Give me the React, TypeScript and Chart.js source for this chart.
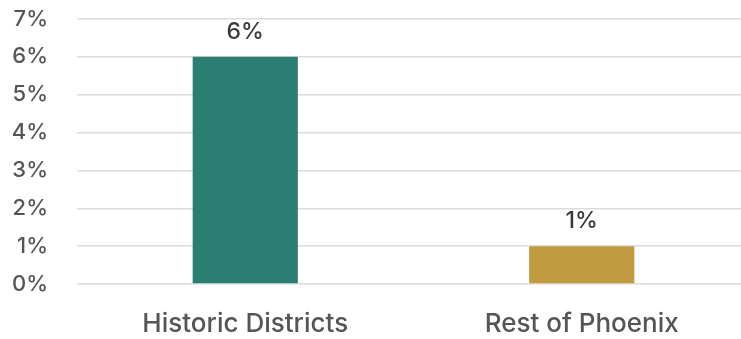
import React, { useEffect, useRef } from "react";
import { Chart, registerables } from "chart.js";

Chart.register(...registerables);

const categories = ["Historic Districts", "Rest of Phoenix"];
const values = [6, 1];
const barColors = ["#2b7f72", "#c29b40"];
const yTickValues = [0, 1, 2, 3, 4, 5, 6, 7];

const FONT = "Inter, 'Open Sans', sans-serif";

const valueLabelPlugin = {
  id: "valueLabels",
  afterDatasetsDraw(chart: any) {
    const ctx = chart.ctx;
    const meta = chart.getDatasetMeta(0);
    ctx.save();
    ctx.fillStyle = "#3a3a3a";
    ctx.font = `500 23px ${FONT}`;
    ctx.textAlign = "center";
    ctx.textBaseline = "middle";
    meta.data.forEach((bar: any, i: number) => {
      ctx.fillText(`${values[i]}%`, bar.x, bar.y - 25);
    });
    ctx.restore();
  },
};

export default function App() {
  const ref = useRef<HTMLCanvasElement | null>(null);
  useEffect(() => {
    if (!ref.current) return;
    const chart = new Chart(ref.current, {
      type: "bar",
      data: {
        labels: categories,
        datasets: [
          {
            data: values,
            backgroundColor: barColors,
            barPercentage: 1,
            categoryPercentage: 0.3125,
          },
        ],
      },
      options: {
        animation: false,
        responsive: false,
        maintainAspectRatio: false,
        layout: { padding: { top: 19, left: 0, right: 0, bottom: 0 } },
        plugins: { legend: { display: false }, tooltip: { enabled: false } },
        scales: {
          x: {
            grid: { display: false, drawTicks: false },
            border: { display: false },
            ticks: {
              color: "#555555",
              font: { family: FONT, size: 26, weight: "500" },
              padding: 25,
              maxRotation: 0,
            },
            afterFit(scale: any) {
              scale.height = 55;
              scale.paddingLeft = 0;
              scale.paddingRight = 0;
            },
          },
          y: {
            min: 0,
            max: 7,
            afterBuildTicks(scale: any) {
              scale.ticks = yTickValues.map((v) => ({ value: v }));
            },
            grid: { color: "#dcdcdc", lineWidth: 1.5, drawTicks: false },
            border: { display: false },
            ticks: {
              color: "#555555",
              font: { family: FONT, size: 22, weight: "500" },
              padding: 29,
              callback: (v: any) => `${v}%`,
            },
            afterFit(scale: any) {
              scale.width = 77;
              scale.paddingTop = 0;
              scale.paddingBottom = 0;
            },
          },
        },
      },
      plugins: [valueLabelPlugin],
    });
    return () => chart.destroy();
  }, []);
  return (
    <div style={{ position: "fixed", left: 0, top: 0, width: 741, height: 339, overflow: "hidden", background: "#fff" }}>
      <canvas ref={ref} width={750} height={339} style={{ display: "block" }} />
    </div>
  );
}
